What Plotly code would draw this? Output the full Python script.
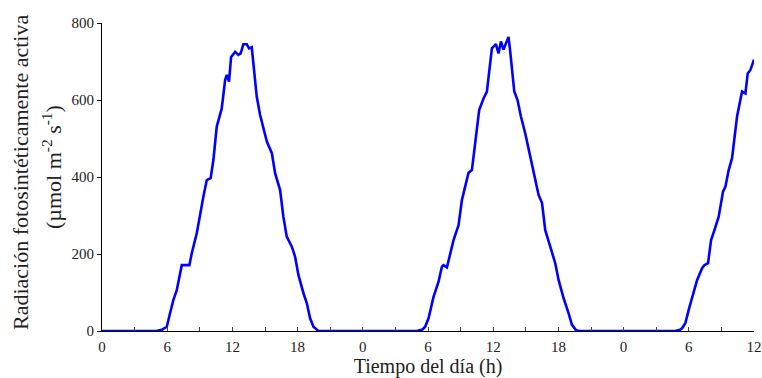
import plotly.graph_objects as go

# Time since start (h) and photosynthetically active radiation (µmol m-2 s-1)
hours = [0, 5.0, 5.5, 5.96, 6.26, 6.57, 6.88, 7.1, 7.34, 8.04, 8.26, 8.72, 9.02, 9.33, 9.64, 10.0,
         10.25, 10.56, 11.02, 11.33, 11.48, 11.69, 11.88, 12.25, 12.55, 12.76, 13.01,
         13.32, 13.53, 13.78, 13.93, 14.24, 14.55, 15.01, 15.17, 15.63, 15.93, 16.39,
         16.69, 17.0, 17.47, 17.77, 18.08, 18.54, 18.85, 19.15, 19.46, 19.92,
         28.97, 29.5, 29.74, 30.05, 30.51, 30.97, 31.28, 31.43, 31.74, 32.35, 32.81,
         33.12, 33.28, 33.73, 34.04, 34.19, 34.5, 34.71, 35.11, 35.42, 35.88, 36.25,
         36.49, 36.71, 36.95, 37.41, 37.57, 37.94, 38.24, 38.55, 38.95, 39.41, 39.72,
         40.18, 40.49, 40.79, 41.25, 41.71, 42.02, 42.48, 42.94, 43.25, 43.6, 43.86,
         52.76, 53.2, 53.38, 53.68, 53.99, 54.3, 54.76, 55.22, 55.43, 55.77, 56.05,
         56.36, 56.75, 57.15, 57.37, 57.67, 57.98, 58.44, 58.9, 59.21, 59.42, 59.67,
         59.92, 60.0]
par = [0, 0, 3, 11, 46, 81, 106, 135, 171, 171, 202, 254, 306, 349, 392, 397,
       444, 531, 578, 652, 665, 648, 712, 725, 717, 721, 745,
       745, 734, 737, 695, 609, 561, 505, 492, 462, 410, 366,
       297, 245, 219, 193, 145, 98, 72, 33, 11, 0,
       0, 4, 11, 33, 89, 128, 167, 171, 165, 236, 275,
       340, 358, 411, 418, 453, 531, 574, 604, 622, 734, 745,
       721, 752, 731, 764, 725, 622, 600, 557, 513, 453, 405,
       353, 333, 262, 219, 176, 132, 85, 46, 16, 3, 0,
       0, 3, 7, 20, 55, 89, 132, 163, 171, 176, 236,
       262, 297, 362, 375, 418, 449, 557, 622, 617, 669, 678,
       704, 705]

tick_hours = list(range(0, 61, 3))
tick_labels = ["0", "", "6", "", "12", "", "18", "", "0", "", "6", "", "12", "", "18", "",
               "0", "", "6", "", "12"]
y_ticks = [0, 200, 400, 600, 800]

y_title_line1 = "Radiación fotosintéticamente activa"
y_title_line2 = "(µmol m<sup>-2</sup> s<sup>-1</sup>)"
x_title = "Tiempo del día (h)"

FONT = "Liberation Serif"
L, R, T, B = 102, 8, 23, 47
W, H = 762, 378
PW, PH = W - L - R, H - T - B


def px_to_paper_x(px):
    return (px - L) / PW


def px_to_paper_y(py):
    return (H - B - py) / PH


fig = go.Figure()
fig.add_trace(go.Scatter(x=hours, y=par, mode="lines",
                         line=dict(color="#0000FF", width=2.6),
                         showlegend=False, hoverinfo="skip"))

fig.update_layout(
    width=W, height=H,
    margin=dict(l=L, r=R, t=T, b=B),
    paper_bgcolor="white", plot_bgcolor="white",
    font=dict(family=FONT, size=15, color="#222"),
    xaxis=dict(range=[0, 60], tickmode="array", tickvals=tick_hours, ticktext=tick_labels,
               ticks="inside", ticklen=4, tickcolor="#444", showline=True, linecolor="black",
               linewidth=1, showgrid=False, zeroline=False, ticklabelstandoff=2,
               title=dict(text=x_title, font=dict(family=FONT, size=20), standoff=0),
               automargin=False),
    yaxis=dict(range=[0, 800], tickmode="array", tickvals=y_ticks,
               ticks="outside", ticklen=4, tickcolor="black", showline=True, linecolor="black",
               linewidth=1, showgrid=False, zeroline=False,
               automargin=False),
    annotations=[
        dict(text=y_title_line1, textangle=-90, xref="paper", yref="paper",
             x=px_to_paper_x(20), y=px_to_paper_y(173), xanchor="center", yanchor="middle",
             showarrow=False, font=dict(family=FONT, size=22, color="#222")),
        dict(text=y_title_line2, textangle=-90, xref="paper", yref="paper",
             x=px_to_paper_x(52), y=px_to_paper_y(167), xanchor="center", yanchor="middle",
             showarrow=False, font=dict(family=FONT, size=22, color="#222")),
    ],
)

fig.write_html("out.html")
